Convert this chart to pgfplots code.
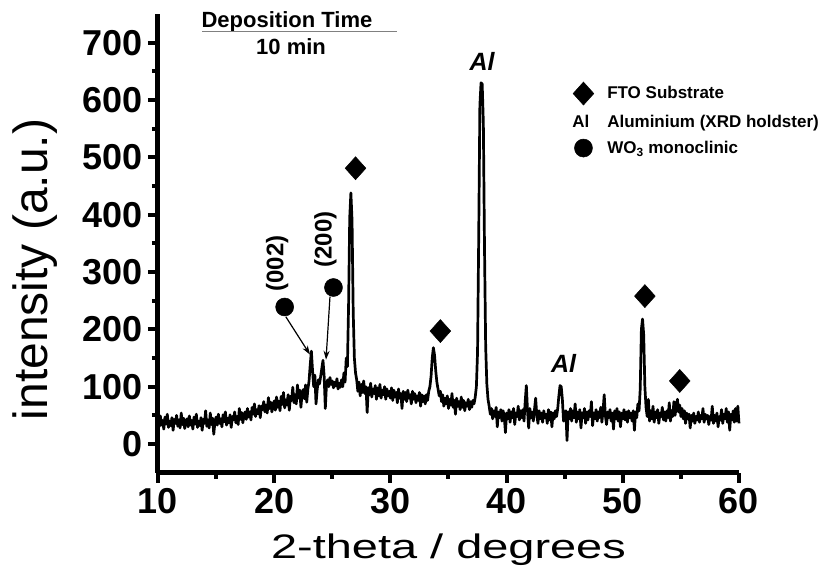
\documentclass[border=0pt]{standalone}
\usepackage{fontspec}
\setmainfont{Liberation Sans}
\usepackage{graphicx}
\usepackage{pgfplots}
\pgfplotsset{compat=1.18}
\usetikzlibrary{arrows.meta}

\newcommand{\fs}[1]{\fontsize{#1}{#1}\selectfont}

\begin{document}
\begin{tikzpicture}
\path[use as bounding box] (-158pt,-105.3pt) rectangle (670pt,472.7pt);
\begin{axis}[
  line width=4pt,
  scale only axis, width=581pt, height=458.7pt,
  xmin=10, xmax=60, ymin=-50, ymax=750,
  separate axis lines,
  axis x line=bottom, axis y line=left,
  axis line style={line width=5pt, -},
  x axis line style={line width=5pt, -},
  y axis line style={line width=5pt, -},
  xtick={10,20,...,60}, ytick={0,100,...,700},
  minor x tick num=1, minor y tick num=1,
  tick align=outside,
  major tick length=10pt, minor tick length=6pt,
  every tick/.style={line width=4pt, black},
  ticklabel style={font=\fs{36}\bfseries},
  /pgf/number format/assume math mode=true,
  xlabel={\scalebox{1.38}[1]{2-theta / degrees}},
  ylabel={intensity (a.u.)},
  xlabel style={font=\fs{34}, at={(axis description cs:0.5,-0.188)}, anchor=base},
  ylabel style={font=\fs{48}, at={(axis description cs:-0.19,0.443)}, anchor=base},
  clip=false,
  legend style={draw=none, fill=none, inner sep=0pt,
    at={(axis description cs:0.7096,0.856)}, anchor=north west,
    font=\fs{17}\bfseries, row sep=8pt, column sep=0pt},
  legend cell align=left,
]
% measured pattern
\addplot[black, line width=2.7pt, line join=round, forget plot] coordinates {
(10.0,44)(10.1,30)(10.2,49)(10.3,33)(10.4,41)(10.5,26)(10.6,47)(10.7,35)(10.8,52)(10.9,29)
(11.0,40)(11.1,32)(11.2,46)(11.3,24)(11.4,43)(11.5,36)(11.6,50)(11.7,31)(11.8,42)(11.9,28)
(12.0,54)(12.1,34)(12.2,45)(12.3,27)(12.4,39)(12.5,44)(12.6,30)(12.7,49)(12.8,33)(12.9,41)
(13.0,26)(13.1,47)(13.2,35)(13.3,52)(13.4,29)(13.5,40)(13.6,32)(13.7,46)(13.8,24)(13.9,43)
(14.0,36)(14.1,58)(14.2,31)(14.3,42)(14.4,28)(14.5,54)(14.6,34)(14.7,45)(14.8,17)(14.9,39)
(15.0,47)(15.1,33)(15.2,52)(15.3,36)(15.4,44)(15.5,30)(15.6,51)(15.7,39)(15.8,56)(15.9,33)
(16.0,45)(16.1,37)(16.2,51)(16.3,29)(16.4,48)(16.5,42)(16.6,56)(16.7,37)(16.8,48)(16.9,34)
(17.0,62)(17.1,43)(17.2,55)(17.3,37)(17.4,50)(17.5,56)(17.6,43)(17.7,62)(17.8,47)(17.9,56)
(18.0,42)(18.1,64)(18.2,52)(18.3,70)(18.4,48)(18.5,60)(18.6,53)(18.7,67)(18.8,46)(18.9,66)
(19.0,60)(19.1,74)(19.2,56)(19.3,68)(19.4,54)(19.5,81)(19.6,62)(19.7,73)(19.8,56)(19.9,68)
(20.0,75)(20.1,59)(20.2,82)(20.3,64)(20.4,75)(20.5,58)(20.6,83)(20.7,69)(20.8,90)(20.9,63)
(21.0,77)(21.1,68)(21.2,86)(21.3,59)(21.4,83)(21.5,76)(21.6,99)(21.7,72)(21.8,86)(21.9,70)
(22.0,103)(22.1,80)(22.2,94)(22.3,64)(22.4,88)(22.5,95)(22.6,79)(22.7,103)(22.8,73)(22.9,96)
(23.0,110)(23.1,138)(23.2,162)(23.3,128)(23.4,100)(23.5,120)(23.6,70)(23.7,95)(23.8,112)(23.9,105)
(24.0,118)(24.1,132)(24.2,146)(24.3,118)(24.4,62)(24.5,104)(24.6,112)(24.7,100)(24.8,116)(24.9,104)
(25.0,110)(25.1,98)(25.2,108)(25.3,101)(25.4,114)(25.5,96)(25.6,106)(25.7,99)(25.8,112)(25.9,100)
(26.0,124)(26.1,108)(26.2,150)(26.3,135)(26.4,240)(26.5,395)(26.6,438)(26.7,390)(26.8,230)(26.9,150)
(27.0,124)(27.1,112)(27.2,92)(27.3,108)(27.4,84)(27.5,104)(27.6,90)(27.7,110)(27.8,88)(27.9,100)
(28.0,55)(28.1,98)(28.2,86)(28.3,106)(28.4,82)(28.5,96)(28.6,88)(28.7,102)(28.8,78)(28.9,98)
(29.0,84)(29.1,104)(29.2,80)(29.3,94)(29.4,86)(29.5,100)(29.6,78)(29.7,96)(29.8,84)(29.9,92)
(30.0,80)(30.1,98)(30.2,76)(30.3,94)(30.4,82)(30.5,90)(30.6,72)(30.7,96)(30.8,80)(30.9,88)
(31.0,62)(31.1,92)(31.2,78)(31.3,90)(31.4,74)(31.5,94)(31.6,80)(31.7,86)(31.8,70)(31.9,92)
(32.0,78)(32.1,88)(32.2,72)(32.3,84)(32.4,76)(32.5,90)(32.6,66)(32.7,86)(32.8,74)(32.9,84)
(33.0,70)(33.1,86)(33.2,76)(33.3,92)(33.4,100)(33.5,118)(33.6,150)(33.7,168)(33.8,155)(33.9,128)
(34.0,108)(34.1,96)(34.2,84)(34.3,92)(34.4,74)(34.5,86)(34.6,66)(34.7,80)(34.8,70)(34.9,84)
(35.0,62)(35.1,78)(35.2,68)(35.3,88)(35.4,64)(35.5,76)(35.6,52)(35.7,80)(35.8,66)(35.9,74)
(36.0,60)(36.1,82)(36.2,64)(36.3,76)(36.4,58)(36.5,72)(36.6,66)(36.7,78)(36.8,60)(36.9,74)
(37.0,64)(37.1,76)(37.2,70)(37.3,82)(37.4,100)(37.5,160)(37.6,360)(37.7,590)(37.8,630)(37.9,628)
(38.0,560)(38.1,340)(38.2,170)(38.3,105)(38.4,78)(38.5,66)(38.6,52)(38.7,62)(38.8,44)(38.9,58)
(39.0,48)(39.1,64)(39.2,30)(39.3,56)(39.4,46)(39.5,60)(39.6,40)(39.7,58)(39.8,48)(39.9,20)
(40.0,54)(40.1,44)(40.2,60)(40.3,38)(40.4,56)(40.5,46)(40.6,62)(40.7,34)(40.8,54)(40.9,48)
(41.0,66)(41.1,42)(41.2,58)(41.3,46)(41.4,60)(41.5,40)(41.6,74)(41.7,102)(41.8,58)(41.9,28)
(42.0,62)(42.1,46)(42.2,56)(42.3,40)(42.4,60)(42.5,80)(42.6,50)(42.7,36)(42.8,58)(42.9,44)
(43.0,54)(43.1,38)(43.2,58)(43.3,46)(43.4,52)(43.5,36)(43.6,60)(43.7,42)(43.8,56)(43.9,30)
(44.0,54)(44.1,44)(44.2,58)(44.3,48)(44.4,62)(44.5,84)(44.6,102)(44.7,100)(44.8,78)(44.9,40)
(45.0,48)(45.1,58)(45.2,6)(45.3,56)(45.4,44)(45.5,62)(45.6,40)(45.7,58)(45.8,46)(45.9,70)
(46.0,38)(46.1,56)(46.2,44)(46.3,60)(46.4,28)(46.5,54)(46.6,46)(46.7,62)(46.8,36)(46.9,56)
(47.0,42)(47.1,58)(47.2,48)(47.3,74)(47.4,32)(47.5,54)(47.6,44)(47.7,60)(47.8,40)(47.9,56)
(48.0,46)(48.1,64)(48.2,38)(48.3,58)(48.4,86)(48.5,50)(48.6,34)(48.7,56)(48.8,46)(48.9,60)
(49.0,40)(49.1,54)(49.2,26)(49.3,58)(49.4,44)(49.5,62)(49.6,40)(49.7,56)(49.8,30)(49.9,54)
(50.0,44)(50.1,60)(50.2,42)(50.3,56)(50.4,38)(50.5,58)(50.6,46)(50.7,54)(50.8,40)(50.9,58)
(51.0,24)(51.1,56)(51.2,46)(51.3,70)(51.4,58)(51.5,96)(51.6,200)(51.7,218)(51.8,190)(51.9,100)
(52.0,64)(52.1,48)(52.2,78)(52.3,40)(52.4,58)(52.5,44)(52.6,66)(52.7,38)(52.8,56)(52.9,46)
(53.0,60)(53.1,36)(53.2,54)(53.3,48)(53.4,64)(53.5,42)(53.6,56)(53.7,40)(53.8,58)(53.9,46)
(54.0,72)(54.1,40)(54.2,58)(54.3,48)(54.4,74)(54.5,50)(54.6,66)(54.7,78)(54.8,56)(54.9,68)
(55.0,48)(55.1,62)(55.2,44)(55.3,58)(55.4,36)(55.5,54)(55.6,44)(55.7,52)(55.8,28)(55.9,50)
(56.0,40)(56.1,54)(56.2,36)(56.3,48)(56.4,42)(56.5,56)(56.6,38)(56.7,50)(56.8,44)(56.9,62)
(57.0,38)(57.1,52)(57.2,44)(57.3,50)(57.4,34)(57.5,48)(57.6,42)(57.7,66)(57.8,36)(57.9,50)
(58.0,40)(58.1,54)(58.2,30)(58.3,48)(58.4,42)(58.5,60)(58.6,36)(58.7,52)(58.8,44)(58.9,62)
(59.0,38)(59.1,56)(59.2,24)(59.3,52)(59.4,42)(59.5,58)(59.6,38)(59.7,62)(59.8,40)(59.9,66)
(60.0,36)
};
% FTO substrate peaks
\addplot[only marks, mark=diamond*, mark size=11.5pt,
  mark options={xscale=1.2, fill=black, draw=black, line width=0.5pt},
  legend image code/.code={\path[draw=none, fill=none] (3.8pt,-9pt) rectangle (36pt,9pt);
    \draw[only marks, mark=diamond*, mark size=11.5pt,
    mark options={xscale=1.2, fill=black, draw=black, line width=0.5pt}] plot coordinates {(14.2pt,0pt)};}]
  coordinates {(27.0,481) (34.3,197) (51.9,258) (54.9,110)};
\addlegendentry{FTO Substrate}
\addlegendimage{legend image code/.code={\path[draw=none, fill=none] (3.8pt,-9pt) rectangle (36pt,9pt);
  \node[font=\fs{17}\bfseries, inner sep=0pt, anchor=center] at (11.5pt,0pt) {Al};}}
\addlegendentry{Aluminium (XRD holdster)}
% WO3 monoclinic
\addplot[only marks, mark=*, mark size=9pt, mark options={fill=black, draw=black, line width=0.5pt},
  legend image code/.code={\path[draw=none, fill=none] (3.8pt,-9pt) rectangle (36pt,9pt);
    \draw[only marks, mark=*, mark size=9pt,
    mark options={fill=black, draw=black, line width=0.5pt}] plot coordinates {(14.2pt,0pt)};}]
  coordinates {(20.9,239) (25.1,273)};
\addlegendentry{WO\textsubscript{3} monoclinic}

\draw[line width=1.2pt, -{Stealth[length=9pt,width=6pt]}] (axis cs:21.0,222) -- (axis cs:23.08,156);
\draw[line width=1.2pt, -{Stealth[length=9pt,width=6pt]}] (axis cs:24.8,257) -- (axis cs:24.46,147);
\node[font=\fs{24}\bfseries, rotate=90] at (axis cs:20.25,315) {(002)};
\node[font=\fs{24}\bfseries, rotate=90] at (axis cs:24.4,357) {(200)};
\node[font=\fs{25}\bfseries\itshape, anchor=base] at (axis cs:37.9,652) {Al};
\node[font=\fs{25}\bfseries\itshape, anchor=base] at (axis cs:44.9,124) {Al};
\node[font=\fs{22}\bfseries, anchor=base] at (axis cs:21.1,725.6) {Deposition Time};
\draw[gray, line width=1pt] (axis cs:13.8,718.8) -- (axis cs:30.57,718.8);
\node[font=\fs{22}\bfseries, anchor=base] at (axis cs:21.45,678.6) {10 min};
\end{axis}
\end{tikzpicture}
\end{document}
